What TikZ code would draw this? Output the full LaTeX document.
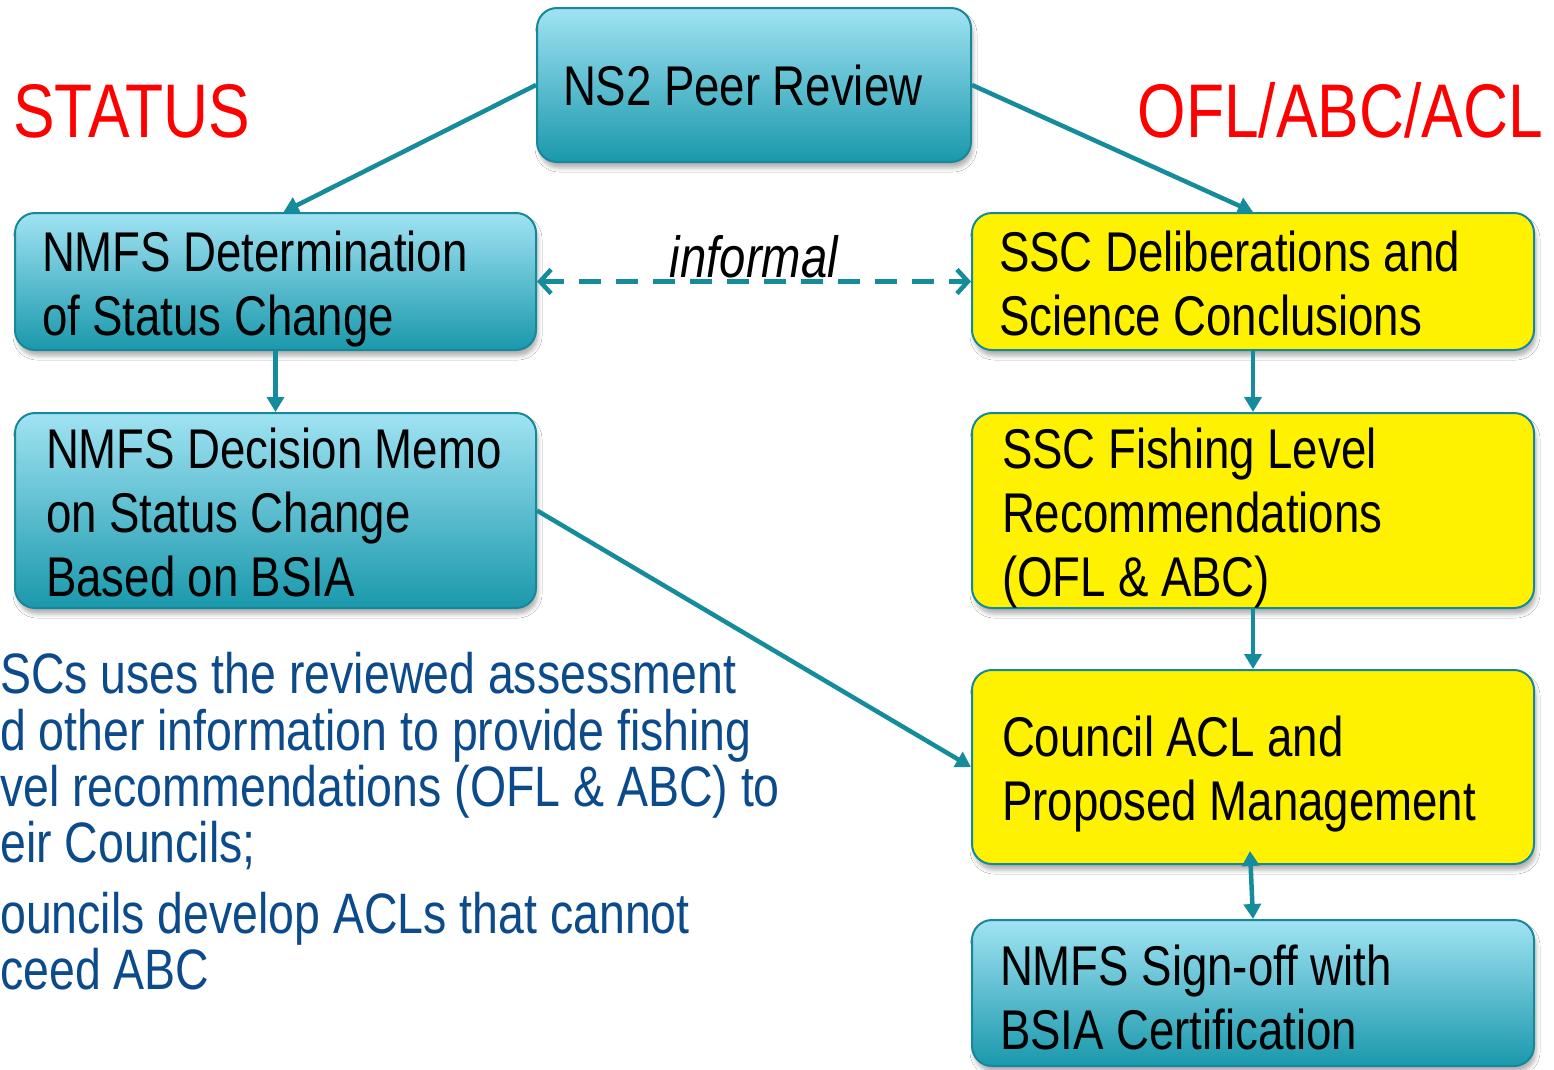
\documentclass[tikz,border=0pt]{standalone}
\usepackage{fontspec}
\setmainfont[FakeStretch=0.815]{Liberation Sans}
\newfontfamily\widefont[FakeStretch=0.815]{Liberation Sans}
\newfontfamily\titlefont[FakeStretch=0.82]{Liberation Sans}
\usetikzlibrary{arrows.meta,shadows.blur,calc}
\definecolor{tealc}{HTML}{148C9C}
\definecolor{bordc}{HTML}{16889A}
\definecolor{gtop}{HTML}{A0E3F3}
\definecolor{gbot}{HTML}{1A98AC}
\definecolor{txtblue}{HTML}{0B4A8B}
\newcommand\tstr[1]{\spaceskip=0.22em\relax\rule{0pt}{#1pt}}
\newcommand\bstr[1]{\rule[-#1pt]{0pt}{#1pt}}
\begin{document}
\begin{tikzpicture}[x=1pt,y=-1pt,
  box/.style={rounded corners=20pt, draw=bordc, line width=2pt, inner ysep=0pt,
    align=left, font=\fontsize{56}{64}\selectfont,
    blur shadow={shadow xshift=2pt, shadow yshift=-6pt, shadow blur radius=4pt, shadow opacity=30}},
  bluebox/.style={box, top color=gtop, bottom color=gbot},
  yelbox/.style={box, fill=yellow},
  conn/.style={draw=tealc, line width=4.5pt, -{Triangle[length=15pt,width=17pt]}},
  title/.style={inner sep=0pt, text=red, font=\titlefont\fontsize{76}{76}\selectfont},
  body/.style={inner sep=0pt, anchor=base west, text=txtblue, font=\widefont\fontsize{57}{57}\selectfont}
]
\fill[white] (0,0) rectangle (1554,1069);
\useasboundingbox (0,0) rectangle (1554,1069);

\node[bluebox, minimum width=434pt, minimum height=154pt, text width=382pt, inner xsep=26pt] (ns2) at (754,85)
  {\tstr{60}NS2 Peer Review\bstr{20}};
\node[bluebox, minimum width=521pt, minimum height=137pt, text width=467pt, inner xsep=27pt] (det) at (275.5,281.5)
  {\tstr{56}NMFS Determination\\of Status Change\bstr{13}};
\node[bluebox, minimum width=521pt, minimum height=195pt, text width=459pt, inner xsep=31pt] (dec) at (275.5,510.5)
  {\tstr{55}\mbox{NMFS Decision Memo}\\on Status Change\\Based on BSIA\bstr{12}};
\node[yelbox, minimum width=562pt, minimum height=137pt, text width=508pt, inner xsep=27pt] (del) at (1253,281.5)
  {\tstr{56}SSC Deliberations and\\Science Conclusions\bstr{13}};
\node[yelbox, minimum width=562pt, minimum height=195pt, text width=502pt, inner xsep=30pt] (fish) at (1253,510.5)
  {\tstr{55}SSC Fishing Level\\Recommendations\\(OFL \& ABC)\bstr{12}};
\node[yelbox, minimum width=562pt, minimum height=194pt, text width=502pt, inner xsep=30pt] (council) at (1253,767)
  {\tstr{60}Council ACL and\\Proposed Management\bstr{18}};
\node[bluebox, minimum width=562pt, minimum height=146pt, text width=506pt, inner xsep=28pt] (sign) at (1253,993)
  {\tstr{61}NMFS Sign-off with\\BSIA Certification\bstr{13}};

\node[title, anchor=base west] (status) at (13,137) {STATUS};
\node[title, anchor=base east] (ofl) at (1543,137) {OFL/ABC/ACL};

\node[body] (t1) at (0,693) {SCs uses the reviewed assessment};
\node[body] (t2) at (0,750) {d other information to provide fishing};
\node[body] (t3) at (0,806) {vel recommendations (OFL \& ABC) to};
\node[body] (t4) at (0,862) {eir Councils;};
\node[body] (t5) at (0,933) {ouncils develop ACLs that cannot};
\node[body] (t6) at (0,989) {ceed ABC};

\draw[conn] (ns2.west) -- ([xshift=8pt]det.north);
\draw[conn] (ns2.east) -- (del.north);
\draw[conn] (det.south) -- (dec.north);
\draw[conn] (del.south) -- (fish.north);
\draw[conn] (fish.south) -- (council.north);
\draw[conn] (dec.east) -- (council.west);
\draw[conn, {Triangle[length=15pt,width=17pt]}-{Triangle[length=15pt,width=17pt]}]
  ([xshift=-3pt,yshift=14pt]council.south) -- (sign.north);
\draw[draw=tealc, line width=4.5pt, dash pattern=on 22pt off 15pt,
  {Straight Barb[length=11pt,width=24pt]}-{Straight Barb[length=11pt,width=24pt]}]
  (det.east) -- (del.west)
  node[midway, anchor=base, yshift=4pt, inner sep=0pt, text=black,
       font=\itshape\fontsize{58}{64}\selectfont] (inf) {informal};
\end{tikzpicture}
\end{document}
